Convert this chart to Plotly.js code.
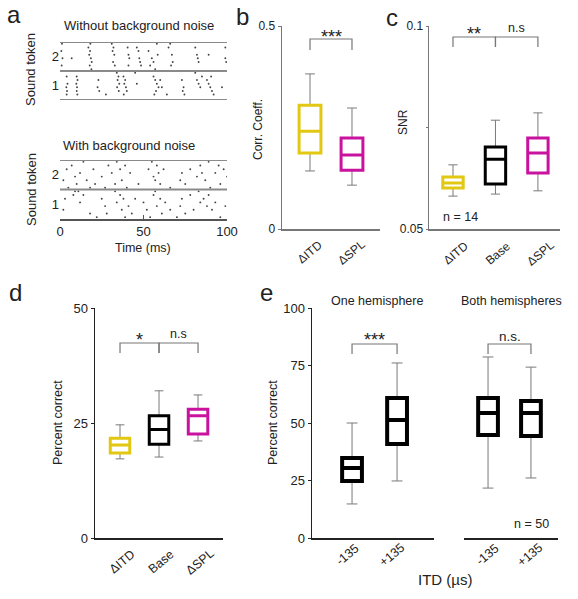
<!DOCTYPE html>
<html><head><meta charset="utf-8">
<script src="https://cdn.plot.ly/plotly-3.0.1.min.js"></script>
<style>html,body{margin:0;padding:0;background:#fff}#plot{width:578px;height:599px}</style>
</head><body><div id="plot"></div>
<script>
// ---------- panel a: raster data (time ms, trial index within token) ----------
const cleanTok2Times  = [1,1.5,0.8,1.2,7,17,18,17.5,18.5,19,17.8,18.2,18.8,31,32,31.5,32.5,31.8,32.8,40.5,41,41.5,41,46,47,47.5,48,48.5,53,55,56,54,57,58,58.5,65,66,67,67.5,66.5,81,82,82.5,83,89,99,99,99.5];
const cleanTok2Trials = [2,4,6,8,4,7,6,5,4,3,2,8,1,8,7,6,5,3,2,7,5,4,2,7,6,4,3,2,6,4,3,2,1,8,5,7,8,5,3,2,7,5,4,3,5,7,4,3];
const cleanTok1Times  = [4,4.5,3.8,4.2,4,10,10.5,9.8,10.2,10,10.4,23,22.5,23.5,27.5,34,35,34.5,35.5,34.2,35.2,38,39,38.5,39.5,40,38.2,45,46,56,57,58,59,57.5,60,61,56.5,64,73,74,73.5,74.5,81,82,83,84,85,88,89,90,91,92,90.5,97];
const cleanTok1Trials = [7,5,4,3,2,7,6,5,4,3,2,6,4,3,2,8,7,6,5,4,3,7,6,5,4,3,2,8,5,7,6,5,4,3,6,4,2,2,6,4,3,2,8,6,5,4,7,6,5,4,3,2,7,4];
const noiseTok2Times  = [2,4,5,7,9,10,12,14,16,18,20,21,25,27,29,31,33,34,36,37,39,40,42,47,53,55,56,57,58,59,60,62,66,72,73,75,78,82,84,85,87,89,90,93,95,96,98,100];
const noiseTok2Trials = [3,6,1,7,4,2,5,8,3,1,6,2,4,1,7,5,2,8,6,3,7,1,5,2,6,8,4,3,7,5,2,6,1,3,5,2,6,4,7,5,3,8,1,5,7,2,6,4];
const noiseTok1Times  = [2,3,8,9,11,12,14,18,22,25,27,28,33,34,36,37,38,39,41,43,45,50,52,54,56,57,58,60,61,63,66,70,72,73,75,78,80,83,84,86,88,89,91,93,96,99];
const noiseTok1Trials = [3,6,7,8,8,5,7,2,1,6,4,2,8,5,7,3,6,1,4,2,6,5,3,1,7,8,4,6,2,5,3,1,4,6,2,7,3,8,5,6,4,7,3,5,1,4];
const tokenTickVals = [4.5, 12.5];
const tokenTickText = ['1', '2'];
const timeTicks = [0, 50, 100];

// ---------- panel b: correlation coefficient ----------
const corrCats  = ['ΔITD', 'ΔSPL'];
const corrLow   = [0.143, 0.108];
const corrQ1    = [0.187, 0.145];
const corrMed   = [0.241, 0.182];
const corrQ3    = [0.305, 0.224];
const corrHigh  = [0.382, 0.298];

// ---------- panel c: SNR ----------
const snrCats  = ['ΔITD', 'Base', 'ΔSPL'];
const snrLow   = [0.0581, 0.0586, 0.0594];
const snrQ1    = [0.0601, 0.0611, 0.0638];
const snrMed   = [0.0613, 0.0672, 0.0687];
const snrQ3    = [0.0628, 0.0702, 0.0724];
const snrHigh  = [0.0658, 0.0768, 0.0786];

// ---------- panel d: percent correct ----------
const pcCats  = ['ΔITD', 'Base', 'ΔSPL'];
const pcLow   = [17.2, 17.6, 21.1];
const pcQ1    = [18.5, 20.4, 22.6];
const pcMed   = [20.2, 23.6, 26.6];
const pcQ3    = [21.7, 26.6, 28.0];
const pcHigh  = [24.6, 32.0, 31.1];

// ---------- panel e: ITD manipulation ----------
const itdCats   = ['-135', '+135'];
const oneLow    = [14.8, 24.8];
const oneQ1     = [24.8, 40.9];
const oneMed    = [30.4, 51.3];
const oneQ3     = [34.8, 60.9];
const oneHigh   = [50.0, 76.1];
const bothLow   = [21.7, 26.1];
const bothQ1    = [44.8, 44.3];
const bothMed   = [54.3, 54.3];
const bothQ3    = [60.9, 59.6];
const bothHigh  = [78.7, 74.3];

// ---------- helpers ----------
const W = 578, H = 599;
const X = p => p / W;
const Y = p => 1 - p / H;
const YEL = '#e2c813', MAG = '#c9139f', BLK = '#000000', GRAY = '#7a7a7a';
const FONT = 'Liberation Sans, Arial, sans-serif';

const traces = [];
function addBoxes(xa, ya, low, q1, med, q3, high, colors, lw, bw, ww) {
  for (let i = 0; i < q1.length; i++) {
    const pos = i + 1;
    traces.push({type:'box', x:[pos], q1:[q1[i]], median:[med[i]], q3:[q3[i]],
      lowerfence:[low[i]], upperfence:[high[i]], xaxis:xa, yaxis:ya, width:bw,
      whiskerwidth:ww, line:{color:GRAY, width:1}, fillcolor:'rgba(0,0,0,0)',
      boxpoints:false, hoverinfo:'skip', showlegend:false});
    traces.push({type:'box', x:[pos], q1:[q1[i]], median:[med[i]], q3:[q3[i]],
      lowerfence:[q1[i]], upperfence:[q3[i]], xaxis:xa, yaxis:ya, width:bw,
      whiskerwidth:0, line:{color:colors[i], width:lw}, fillcolor:'rgba(0,0,0,0)',
      boxpoints:false, hoverinfo:'skip', showlegend:false});
  }
}
function addRaster(xa, ya, times, trials, offset) {
  traces.push({type:'scatter', mode:'markers', x:times, y:trials.map(t => t + offset),
    xaxis:xa, yaxis:ya, marker:{symbol:'circle', size:1.9, color:'#444', line:{width:0}},
    hoverinfo:'skip', showlegend:false});
}

addRaster('x', 'y', cleanTok1Times, cleanTok1Trials, 0);
addRaster('x', 'y', cleanTok2Times, cleanTok2Trials, 8);
addRaster('x2', 'y2', noiseTok1Times, noiseTok1Trials, 0);
addRaster('x2', 'y2', noiseTok2Times, noiseTok2Trials, 8);

addBoxes('x3', 'y3', corrLow, corrQ1, corrMed, corrQ3, corrHigh, [YEL, MAG], 3, 0.52, 0.45);
addBoxes('x4', 'y4', snrLow, snrQ1, snrMed, snrQ3, snrHigh, [YEL, BLK, MAG], 3, 0.48, 0.45);
addBoxes('x5', 'y5', pcLow, pcQ1, pcMed, pcQ3, pcHigh, [YEL, BLK, MAG], 3, 0.5, 0.45);
addBoxes('x6', 'y6', oneLow, oneQ1, oneMed, oneQ3, oneHigh, [BLK, BLK], 4, 0.44, 0.55);
addBoxes('x7', 'y7', bothLow, bothQ1, bothMed, bothQ3, bothHigh, [BLK, BLK], 4, 0.46, 0.55);

const hidden = {visible:false, showgrid:false, zeroline:false};
const baseAx = (col) => ({showgrid:false, zeroline:false, showline:true, linecolor:col, linewidth:1.5,
  ticks:'outside', ticklen:3, tickcolor:col, tickfont:{size:12, color:'#222'}});

const layout = {
  width:W, height:H, margin:{l:0, r:0, t:0, b:0}, paper_bgcolor:'#fff', plot_bgcolor:'rgba(0,0,0,0)',
  showlegend:false, font:{family:FONT, color:'#222'},
  xaxis: Object.assign({}, hidden, {domain:[X(60), X(227)], range:[0, 100], anchor:'y'}),
  yaxis: {domain:[Y(100), Y(42)], range:[0.5, 16.5], anchor:'x', showgrid:false, zeroline:false,
          showline:false, ticks:'', tickvals:tokenTickVals, ticktext:tokenTickText, tickfont:{size:13}},
  xaxis2: Object.assign(baseAx('#555'), {domain:[X(60), X(227)], range:[0, 100], anchor:'y2',
          tickvals:timeTicks, ticks:'inside', ticklen:4, tickfont:{size:13}}),
  yaxis2: {domain:[Y(219), Y(160)], range:[0.5, 16.5], anchor:'x2', showgrid:false, zeroline:false,
          showline:false, ticks:'', tickvals:tokenTickVals, ticktext:tokenTickText, tickfont:{size:13}},
  xaxis3: Object.assign(baseAx('#777'), {domain:[X(282), X(380)], range:[0.333, 2.667], anchor:'y3',
          tickvals:[1, 2], ticktext:['', ''], ticks:''}),
  yaxis3: Object.assign(baseAx('#777'), {domain:[Y(229), Y(26)], range:[0, 0.5], anchor:'x3',
          tickvals:[0, 0.5], ticktext:['0', '0.5']}),
  xaxis4: Object.assign(baseAx('#777'), {domain:[X(429), X(560)], range:[0.435, 3.52], anchor:'y4',
          tickvals:[1, 2, 3], ticktext:['', '', ''], ticks:''}),
  yaxis4: Object.assign(baseAx('#777'), {domain:[Y(229), Y(26)], range:[0.05, 0.1], anchor:'x4',
          tickvals:[0.05, 0.075, 0.1], ticktext:['0.05', '', '0.1'], ticklen:2}),
  xaxis5: Object.assign(baseAx('#222'), {domain:[X(95), X(223)], range:[0.359, 3.64], anchor:'y5',
          tickvals:[1, 2, 3], ticktext:['', '', ''], ticks:''}),
  yaxis5: Object.assign(baseAx('#222'), {domain:[Y(538), Y(308)], range:[0, 50], anchor:'x5',
          tickvals:[0, 25, 50], tickfont:{size:13, color:'#222'}}),
  xaxis6: Object.assign(baseAx('#222'), {domain:[X(312), X(434)], range:[0.111, 2.82], anchor:'y6',
          tickvals:[1, 2], ticktext:['', ''], ticks:''}),
  yaxis6: Object.assign(baseAx('#222'), {domain:[Y(538), Y(308)], range:[0, 100], anchor:'x6',
          tickvals:[0, 25, 50, 75, 100], tickfont:{size:13, color:'#222'}}),
  xaxis7: Object.assign(baseAx('#222'), {domain:[X(464), X(558)], range:[0.44, 2.63], anchor:'y7',
          tickvals:[1, 2], ticktext:['', ''], ticks:''}),
  yaxis7: Object.assign({}, hidden, {domain:[Y(538), Y(308)], range:[0, 100], anchor:'x7'}),
  shapes: [], annotations: []
};

// raster frame lines
[16.5, 8.5, 0.5].forEach(v => layout.shapes.push({type:'line', xref:'x', yref:'y', x0:0, x1:100, y0:v, y1:v,
  line:{color:'#8a8a8a', width:2}}));
[16.5, 8.5].forEach(v => layout.shapes.push({type:'line', xref:'x2', yref:'y2', x0:0, x1:100, y0:v, y1:v,
  line:{color:'#8a8a8a', width:2}}));

// significance brackets
function bracket(xa, a, b, top, low) {
  layout.shapes.push({type:'path', xref:xa, yref:'paper',
    path:`M ${a},${Y(low)} L ${a},${Y(top)} L ${b},${Y(top)} L ${b},${Y(low)}`,
    line:{color:'#777', width:1.2}});
}
bracket('x3', 1, 2, 39, 50);
bracket('x4', 1, 2, 37, 47); bracket('x4', 2, 3, 37, 47);
bracket('x5', 1, 2, 343, 353); bracket('x5', 2, 3, 343, 353);
bracket('x6', 1, 2, 344, 354);
bracket('x7', 1, 2, 344, 354);

const A = layout.annotations;
function txt(x, y, text, size, opts) {
  A.push(Object.assign({xref:'paper', yref:'paper', x:X(x), y:Y(y), text:text, showarrow:false,
    font:{size:size, family:FONT, color:'#222'}, xanchor:'center', yanchor:'middle'}, opts || {}));
}
function dtxt(xa, xv, y, text, size, opts) {
  A.push(Object.assign({xref:xa, yref:'paper', x:xv, y:Y(y), text:text, showarrow:false,
    font:{size:size, family:FONT, color:'#222'}, xanchor:'center', yanchor:'middle'}, opts || {}));
}
// panel letters
txt(14, 14, 'a', 24); txt(242, 16, 'b', 24); txt(392, 17, 'c', 24);
txt(15, 292, 'd', 24); txt(266, 292, 'e', 24);
// panel a texts
txt(62, 25, 'Without background noise', 13, {xanchor:'left'});
txt(61, 145, 'With background noise', 13, {xanchor:'left'});
txt(31, 70, 'Sound token', 13, {textangle:-90});
txt(31, 190, 'Sound token', 13, {textangle:-90});
txt(143, 248, 'Time (ms)', 12.5);
// axis titles
txt(258, 130, 'Corr. Coeff.', 12, {textangle:-90});
txt(403, 122, 'SNR', 12, {textangle:-90});
txt(58, 423, 'Percent correct', 12.5, {textangle:-90});
txt(273, 423, 'Percent correct', 12.5, {textangle:-90});
// rotated category labels
corrCats.forEach((c, i) => dtxt('x3', i + 1, 252, c, 12, {textangle:-40}));
snrCats.forEach((c, i) => dtxt('x4', i + 1, 253, c, 12, {textangle:-40, xshift:3}));
pcCats.forEach((c, i) => dtxt('x5', i + 1, 562, c, 12.5, {textangle:-40, xshift:2}));
itdCats.forEach((c, i) => dtxt('x6', i + 1, 555, c, 12.5, {textangle:-40, xshift:-5}));
itdCats.forEach((c, i) => dtxt('x7', i + 1, 555, c, 12.5, {textangle:-40, xshift:-1}));
// significance labels
dtxt('x3', 1.5, 37, '***', 18);
dtxt('x4', 1.5, 34, '**', 18);
dtxt('x4', 2.5, 28, 'n.s', 12.5);
dtxt('x5', 1.5, 340, '*', 18);
dtxt('x5', 2.5, 334, 'n.s', 12.5);
dtxt('x6', 1.5, 340, '***', 18);
dtxt('x7', 1.5, 336, 'n.s.', 13.5);
// other texts
txt(460, 217, 'n = 14', 12.5);
txt(531, 524, 'n = 50', 12.5);
txt(377, 301, 'One hemisphere', 12.5);
txt(511, 301, 'Both hemispheres', 12.5);
txt(445, 579, 'ITD (µs)', 15);

Plotly.newPlot('plot', traces, layout, {displayModeBar:false, staticPlot:true});
</script>
</body></html>
